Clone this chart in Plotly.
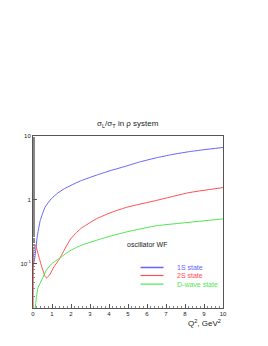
import plotly.graph_objects as go

# 1S state
x_1s = [0.0, 0.05, 0.1, 0.22, 0.38, 0.64, 0.97, 1.3, 1.65, 2.0, 2.49, 3.33, 4.0, 4.8, 5.6, 6.49, 7.3, 8.17, 9.0, 10.0]
y_1s = [0.09, 0.105, 0.126, 0.26, 0.47, 0.77, 1.04, 1.27, 1.49, 1.68, 1.97, 2.42, 2.82, 3.3, 3.9, 4.55, 5.1, 5.65, 6.1, 6.6]
# 2S state
x_2s = [0.0, 0.02, 0.05, 0.13, 0.3, 0.47, 0.64, 0.72, 0.9, 1.1, 1.39, 1.7, 1.98, 2.49, 3.33, 4.17, 5.0, 6.5, 8.2, 10.0]
y_2s = [0.005, 0.12, 0.17, 0.195, 0.13, 0.087, 0.062, 0.059, 0.068, 0.088, 0.117, 0.174, 0.242, 0.348, 0.50, 0.64, 0.77, 0.975, 1.29, 1.55]
# D-wave state
x_d = [0.12, 0.18, 0.27, 0.47, 0.7, 0.97, 1.39, 1.9, 2.49, 3.33, 4.0, 5.0, 6.49, 8.17, 10.0]
y_d = [0.02, 0.03, 0.042, 0.056, 0.078, 0.098, 0.12, 0.155, 0.19, 0.23, 0.265, 0.316, 0.39, 0.44, 0.50]

names = ["1S state", "2S state", "D-wave state"]
colors = ["#6464ff", "#ff5050", "#50e650"]
series = [(x_1s, y_1s), (x_2s, y_2s), (x_d, y_d)]

fig = go.Figure()
for name, (xs, ys), col in zip(names, series, colors):
    fig.add_trace(go.Scatter(
        x=xs, y=ys, mode="lines", name=name, showlegend=False,
        line=dict(color=col, width=1, shape="spline", smoothing=0.4),
    ))

FONT = "Liberation Sans"
PH = 172.0  # plot height in px

annotations = [
    dict(text="σ<sub>L</sub>/σ<sub>T</sub> in ρ system", x=0.5, y=1 + 12 / PH, xref="paper", yref="paper",
         yanchor="middle", showarrow=False, font=dict(size=8, family=FONT, color="#222")),
    dict(text="oscillator WF", x=0.718, y=0.367, xref="paper", yref="paper",
         showarrow=False, font=dict(size=7, family=FONT, color="#222")),
    dict(text="Q<sup>2</sup>, GeV<sup>2</sup>", x=1.0, y=-0.045, xref="paper", yref="paper",
         xanchor="right", yanchor="top", showarrow=False, font=dict(size=8, family=FONT, color="#222")),
]
shapes = []
leg_y = [0.2356, 0.189, 0.139]
for name, col, ly in zip(names, colors, leg_y):
    shapes.append(dict(type="line", xref="paper", yref="paper", x0=0.566, x1=0.687, y0=ly, y1=ly,
                       line=dict(color=col, width=1.5 if name == "1S state" else 1.2)))
    annotations.append(dict(text=name, x=0.748, y=ly, xref="paper", yref="paper", xanchor="left",
                            yanchor="middle", showarrow=False, font=dict(size=7, family=FONT, color=col)))

fig.update_layout(
    width=252, height=338,
    margin=dict(l=17, r=37, t=128, b=38),
    paper_bgcolor="white", plot_bgcolor="white",
    font=dict(family=FONT, size=6, color="#222"),
    showlegend=False,
    xaxis=dict(range=[0, 10], showgrid=False, zeroline=False, showline=True, linecolor="#555",
               linewidth=1, mirror=True, ticks="inside", ticklen=4, tickcolor="#555",
               dtick=1, tickfont=dict(size=6), tickangle=0,
               minor=dict(ticks="inside", ticklen=2, dtick=0.2, tickcolor="#888")),
    yaxis=dict(type="log", range=[-1.7, 1], showgrid=False, zeroline=False, showline=True,
               linecolor="#555", linewidth=1, mirror=True, ticks="inside", ticklen=4, tickcolor="#555",
               tickvals=[0.1, 1, 10], ticktext=["10<sup>-1</sup>", "1", "10"], tickfont=dict(size=6),
               minor=dict(ticks="inside", ticklen=2, tickcolor="#888", showgrid=False)),
    annotations=annotations,
    shapes=shapes,
)

fig.write_html("out.html")
